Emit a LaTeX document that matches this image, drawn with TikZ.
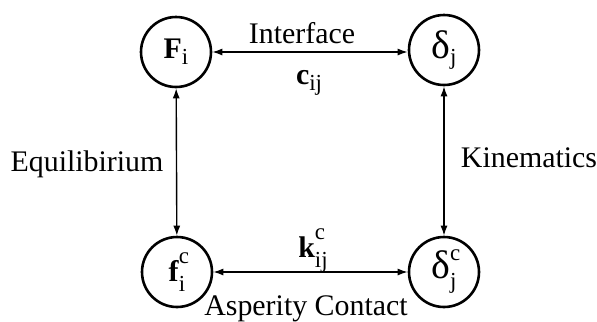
\documentclass[tikz,border=0pt]{standalone}
\usepackage{fontspec}
\setmainfont{Liberation Serif}
\usetikzlibrary{arrows.meta}
\newcommand\subfnt{\fontsize{23}{23}\selectfont}
\newcommand\lowsub[1]{\raisebox{-6bp}{\subfnt #1}}
\newcommand\supsub[2]{\rlap{\raisebox{18bp}{\subfnt #1}}\raisebox{-10bp}{\subfnt #2}}
\begin{document}
\begin{tikzpicture}[x=1bp,y=-1bp,
  state/.style={circle,draw,line width=2.6bp,minimum size=70bp,inner sep=0pt,
                font=\fontsize{30}{32}\selectfont},
  link/.style={{Latex[length=10bp,width=7bp]}-{Latex[length=10bp,width=7bp]},line width=1.4bp},
  lbl/.style={font=\fontsize{30}{34}\selectfont,inner sep=0pt,anchor=base}]
\useasboundingbox (0,0) rectangle (597,321);
\node[state] (F) at (176,52) {\textbf{F}\lowsub{i}};
\node[state] (D) at (444,50) {{\fontsize{40}{40}\selectfont δ}\lowsub{j}};
\node[state] (f) at (177,272) {\textbf{f}\supsub{c}{i}};
\node[state] (d) at (444,272) {{\fontsize{40}{40}\selectfont δ}\supsub{c}{j}};
\draw[link] (F.east) -- (D.west |- F.east);
\draw[link] (F) -- (f);
\draw[link] (D) -- (d);
\draw[link] (f) -- (d);
\node[lbl] (iface) at (302,43) {Interface};
\node[lbl] (cij) at (309,84) {\textbf{c}\lowsub{ij}};
\node[lbl] (kij) at (313,257) {\textbf{k}\supsub{c}{ij}};
\node[lbl] (asp) at (306,315) {Asperity Contact};
\node[lbl] (eq) at (87,171) {Equilibirium};
\node[lbl] (kin) at (529,167) {Kinematics};
\end{tikzpicture}
\end{document}
